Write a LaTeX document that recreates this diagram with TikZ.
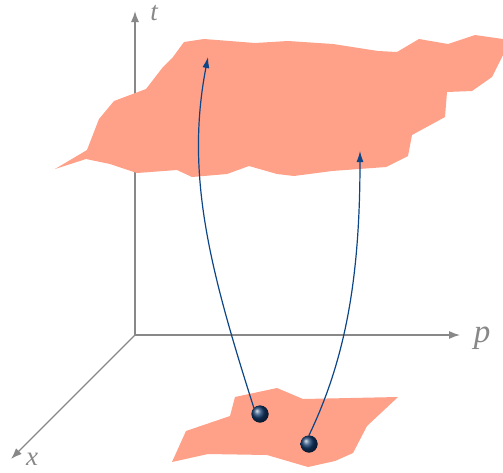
\documentclass[tikz,border=0pt]{standalone}
\usepackage{fontspec}
\newfontfamily\labelfont{Liberation Serif}
\usetikzlibrary{arrows.meta}
\definecolor{axisgray}{RGB}{136,136,136}
\definecolor{blob}{RGB}{255,160,136}
\definecolor{traj}{RGB}{12,70,135}
\definecolor{ballc}{RGB}{20,60,110}
\tikzset{
  axisline/.style={draw=axisgray,line width=1.3pt,-{Latex[length=11pt,width=8pt]}},
  axislabel/.style={text=axisgray,font=\labelfont\itshape\fontsize{27}{27}\selectfont,inner sep=0pt,anchor=base},
  region/.style={fill=blob,draw=none},
  trajline/.style={draw=traj,line width=1.2pt,-{Latex[length=11pt,width=7pt]}},
  particle/.style={circle,minimum size=17pt,inner sep=0pt,shading=ball,ball color=ballc}
}
\begin{document}
\begin{tikzpicture}[x=1pt,y=-1pt]
\useasboundingbox (0,0) rectangle (503,472);
% axes
\coordinate (O) at (135,335);
\coordinate (T) at (135,11);
\coordinate (P) at (460,335);
\coordinate (X) at (11,459);
\draw[axisline] (O) -- (T);
\draw[axisline] (O) -- (P);
\draw[axisline] (O) -- (X);
\node[axislabel] (tl) at (154,20) {t};
\node[axislabel,font=\labelfont\itshape\fontsize{33}{33}\selectfont] (pl) at (482,342) {p};
\node[axislabel] (xl) at (32,465) {x};
% upper region
\path[region] (55,169) -- (87,150) -- (99,119) -- (114,101) -- (146,89) -- (163,67)
  -- (173,57) -- (184,42) -- (204,39) -- (255,43) -- (288,41) -- (333,44) -- (378,51)
  -- (397,52) -- (419,39) -- (448,44) -- (475,35) -- (503,39) -- (503,55) -- (492,77)
  -- (472,91) -- (447,92) -- (445,117) -- (412,135) -- (408,156) -- (386,167)
  -- (332,171) -- (294,176) -- (277,174) -- (249,166) -- (227,174) -- (192,177)
  -- (177,170) -- (137,173) -- (110,164) -- (86,159) -- cycle;
% lower region
\path[region] (172,462) -- (186,431) -- (230,416) -- (235,397) -- (277,388) -- (303,399)
  -- (398,397) -- (367,426) -- (353,453) -- (335,461) -- (308,467) -- (267,455)
  -- (208,454) -- cycle;
% particles
\node[particle] (b1) at (260,414) {};
\node[particle] (b2) at (309,444) {};
\coordinate (e1) at (208,57);
\coordinate (e2) at (360,151);
\draw[trajline] (b1.north west) .. controls (210,270) and (185,175) .. (e1);
\draw[trajline] (b2.north) .. controls (345,360) and (360,280) .. (e2);
\node[particle] at (b1) {};
\node[particle] at (b2) {};
\end{tikzpicture}
\end{document}
